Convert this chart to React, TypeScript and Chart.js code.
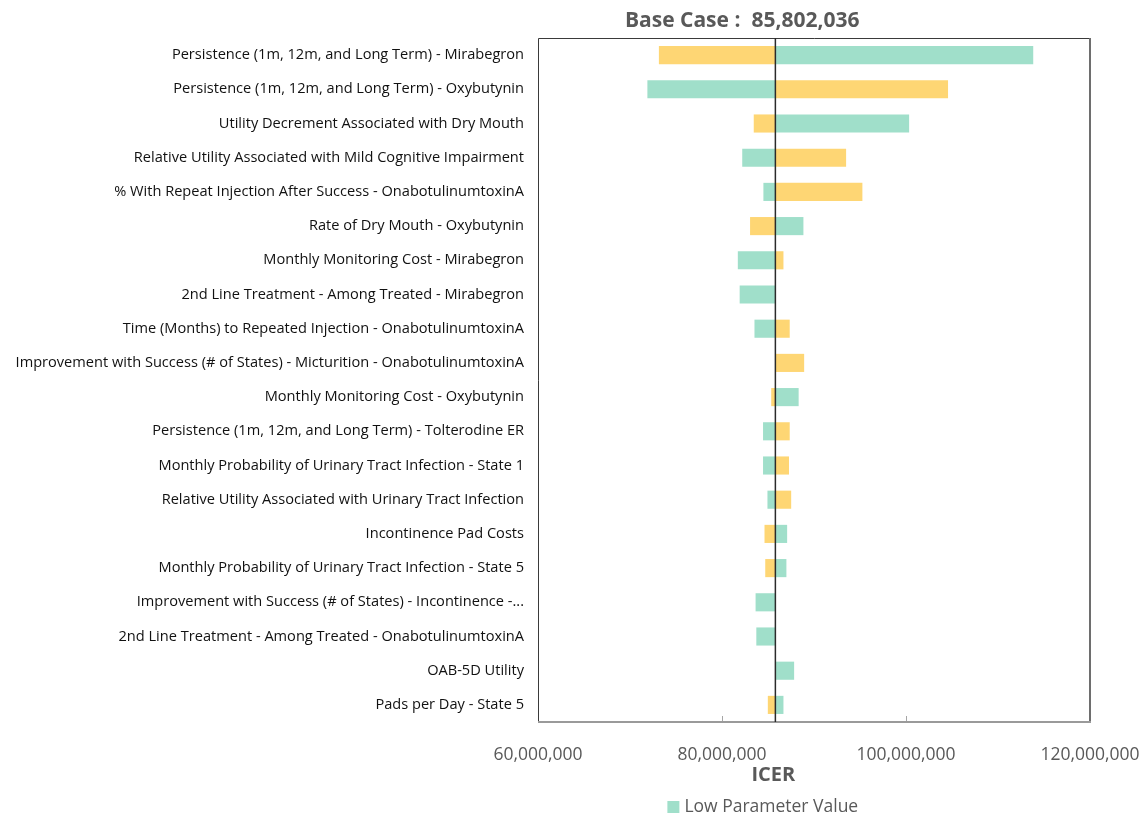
import { useEffect, useRef } from "react";
import { Chart, registerables } from "chart.js";

Chart.register(...registerables);

const parameters = [
  "Persistence (1m, 12m, and Long Term) - Mirabegron",
  "Persistence (1m, 12m, and Long Term) - Oxybutynin",
  "Utility Decrement Associated with Dry Mouth",
  "Relative Utility Associated with Mild Cognitive Impairment",
  "% With Repeat Injection After Success - OnabotulinumtoxinA",
  "Rate of Dry Mouth - Oxybutynin",
  "Monthly Monitoring Cost - Mirabegron",
  "2nd Line Treatment - Among Treated - Mirabegron",
  "Time (Months) to Repeated Injection - OnabotulinumtoxinA",
  "Improvement with Success (# of States) - Micturition - OnabotulinumtoxinA",
  "Monthly Monitoring Cost - Oxybutynin",
  "Persistence (1m, 12m, and Long Term) - Tolterodine ER",
  "Monthly Probability of Urinary Tract Infection - State 1",
  "Relative Utility Associated with Urinary Tract Infection",
  "Incontinence Pad Costs",
  "Monthly Probability of Urinary Tract Infection - State 5",
  "Improvement with Success (# of States) - Incontinence -...",
  "2nd Line Treatment - Among Treated - OnabotulinumtoxinA",
  "OAB-5D Utility",
  "Pads per Day - State 5",
];

const baseCase = 85802036;

// ICER at the low parameter value (teal)
const lowValues = [
  113830000, 71890000, 100340000, 82200000, 84500000, 88850000, 81720000,
  81920000, 83530000, 85802036, 88330000, 84460000, 84460000, 84940000,
  87080000, 87000000, 83650000, 83730000, 87840000, 86680000,
];

// ICER at the high parameter value (yellow)
const highValues = [
  73140000, 104570000, 83450000, 93490000, 95260000, 83050000, 86680000,
  85802036, 87360000, 88930000, 85350000, 87360000, 87280000, 87520000,
  84620000, 84700000, 85802036, 85802036, 85802036, 84980000,
];

const xTickValues = [60000000, 80000000, 100000000, 120000000];

const TEAL = "#a0dfca";
const YELLOW = "#fed674";
const GRAY = "#595959";
const FONT = "'Open Sans', 'Noto Sans', sans-serif";

export default function App() {
  const ref = useRef<HTMLCanvasElement | null>(null);

  useEffect(() => {
    if (!ref.current) return;

    const decorations = {
      id: "tornadoDecorations",
      afterDatasetsDraw(chart: any) {
        const { ctx, chartArea, scales } = chart;
        const x = scales.x;
        const { left, right, top, bottom } = chartArea;
        ctx.save();
        // inside tick marks
        ctx.strokeStyle = "#a6a6a6";
        ctx.lineWidth = 1;
        xTickValues.slice(1, -1).forEach((v) => {
          const px = Math.round(x.getPixelForValue(v)) + 0.5;
          ctx.beginPath();
          ctx.moveTo(px, bottom);
          ctx.lineTo(px, bottom - 6);
          ctx.stroke();
        });
        // frame
        ctx.strokeStyle = "#3a3a3a";
        ctx.lineWidth = 1;
        ctx.beginPath();
        ctx.moveTo(left + 0.5, bottom);
        ctx.lineTo(left + 0.5, top + 0.5);
        ctx.lineTo(right, top + 0.5);
        ctx.stroke();
        ctx.strokeStyle = "#6e6e6e";
        ctx.lineWidth = 2;
        ctx.beginPath();
        ctx.moveTo(right, top);
        ctx.lineTo(right, bottom);
        ctx.stroke();
        ctx.strokeStyle = "#9a9a9a";
        ctx.lineWidth = 2;
        ctx.beginPath();
        ctx.moveTo(left, bottom);
        ctx.lineTo(right + 1, bottom);
        ctx.stroke();
        // base case line
        const bx = x.getPixelForValue(baseCase);
        ctx.strokeStyle = "#2b2b2b";
        ctx.lineWidth = 1.5;
        ctx.beginPath();
        ctx.moveTo(bx, top);
        ctx.lineTo(bx, bottom);
        ctx.stroke();
        ctx.restore();
      },
      afterDraw(chart: any) {
        const { ctx, scales } = chart;
        const bx = scales.x.getPixelForValue(baseCase);
        ctx.save();
        ctx.fillStyle = GRAY;
        ctx.textBaseline = "middle";
        // title
        ctx.font = `bold 21px ${FONT}`;
        ctx.textAlign = "right";
        ctx.fillText("Base Case :", bx - 35, 21);
        ctx.textAlign = "left";
        ctx.fillText(baseCase.toLocaleString("en-US"), bx - 24, 21);
        // axis title
        ctx.textAlign = "center";
        ctx.font = `bold 20px ${FONT}`;
        ctx.fillText("ICER", bx - 2, 775);
        // legend
        ctx.fillStyle = TEAL;
        ctx.fillRect(bx - 108, 801, 12, 12);
        ctx.fillStyle = GRAY;
        ctx.textAlign = "left";
        ctx.font = `17.5px ${FONT}`;
        ctx.fillText("Low Parameter Value", bx - 91, 807);
        ctx.restore();
      },
    };

    const chart = new Chart(ref.current, {
      type: "bar",
      data: {
        labels: parameters,
        datasets: [
          {
            label: "Low Parameter Value",
            data: lowValues.map((v) => [baseCase, v]) as any,
            backgroundColor: TEAL,
            borderWidth: 0,
            grouped: false,
            barPercentage: 0.53,
            categoryPercentage: 1,
          },
          {
            label: "High Parameter Value",
            data: highValues.map((v) => [baseCase, v]) as any,
            backgroundColor: YELLOW,
            borderWidth: 0,
            grouped: false,
            barPercentage: 0.53,
            categoryPercentage: 1,
          },
        ],
      },
      options: {
        indexAxis: "y",
        animation: false,
        responsive: true,
        maintainAspectRatio: false,
        layout: { padding: { top: 38, right: 56, left: 0, bottom: 0 } },
        plugins: {
          legend: { display: false },
          title: { display: false },
          tooltip: { enabled: false },
        },
        scales: {
          x: {
            type: "linear",
            min: 60000000,
            max: 120000000,
            afterBuildTicks: (scale: any) => {
              scale.ticks = xTickValues.map((v) => ({ value: v }));
            },
            afterFit: (scale: any) => {
              scale.height = 96;
              scale.paddingLeft = 0;
              scale.paddingRight = 0;
            },
            grid: { display: false },
            border: { display: false },
            ticks: {
              padding: 15,
              maxRotation: 0,
              autoSkip: false,
              color: GRAY,
              font: { family: FONT, size: 17.5 },
              callback: (v: any) => Number(v).toLocaleString("en-US"),
            },
          },
          y: {
            afterFit: (scale: any) => {
              scale.width = 538;
              scale.paddingTop = 0;
              scale.paddingBottom = 0;
            },
            grid: { display: false },
            border: { display: false },
            ticks: {
              padding: 6,
              autoSkip: false,
              color: "#111111",
              font: { family: FONT, size: 14.6 },
            },
          },
        },
      },
      plugins: [decorations],
    });

    return () => chart.destroy();
  }, []);

  return (
    <div style={{ position: "absolute", left: 0, top: 0, width: 1146, height: 818 }}>
      <canvas ref={ref} />
    </div>
  );
}
